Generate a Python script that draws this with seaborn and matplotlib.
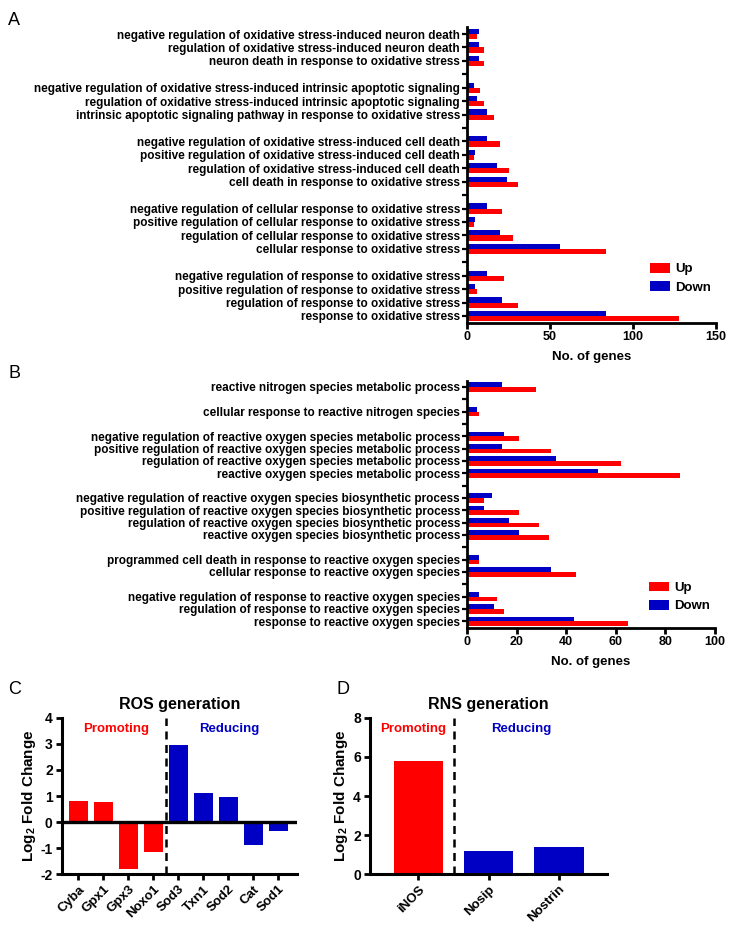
import matplotlib
matplotlib.use('Agg')
import matplotlib.pyplot as plt
from matplotlib.patches import Patch
import seaborn as sns
import pandas as pd

sns.set_style('ticks')
plt.rcParams['font.family'] = ['Liberation Sans', 'DejaVu Sans']
plt.rcParams['font.weight'] = 'bold'
plt.rcParams['axes.labelweight'] = 'bold'
plt.rcParams['axes.unicode_minus'] = False
plt.rcParams['text.color'] = 'black'
plt.rcParams['axes.labelcolor'] = 'black'
plt.rcParams['axes.edgecolor'] = 'black'
plt.rcParams['xtick.color'] = 'black'
plt.rcParams['ytick.color'] = 'black'
plt.rcParams['mathtext.fontset'] = 'custom'
plt.rcParams['mathtext.rm'] = 'Liberation Sans:bold'
plt.rcParams['mathtext.it'] = 'Liberation Sans:bold'
plt.rcParams['mathtext.bf'] = 'Liberation Sans:bold'

RED = '#FF0000'
BLUE = '#0000C4'
PAL = {'Up': RED, 'Down': BLUE}

# ---------------- Panel A data (top to bottom) ----------------
a_terms = [
    "negative regulation of oxidative stress-induced neuron death",
    "regulation of oxidative stress-induced neuron death",
    "neuron death in response to oxidative stress",
    "negative regulation of oxidative stress-induced intrinsic apoptotic signaling",
    "regulation of oxidative stress-induced intrinsic apoptotic signaling",
    "intrinsic apoptotic signaling pathway in response to oxidative stress",
    "negative regulation of oxidative stress-induced cell death",
    "positive regulation of oxidative stress-induced cell death",
    "regulation of oxidative stress-induced cell death",
    "cell death in response to oxidative stress",
    "negative regulation of cellular response to oxidative stress",
    "positive regulation of cellular response to oxidative stress",
    "regulation of cellular response to oxidative stress",
    "cellular response to oxidative stress",
    "negative regulation of response to oxidative stress",
    "positive regulation of response to oxidative stress",
    "regulation of response to oxidative stress",
    "response to oxidative stress",
]
a_up = [6, 10, 10, 8, 10, 16, 20, 4, 25, 31, 21, 4, 28, 84, 22, 6, 31, 128]
a_down = [7, 7, 7, 4, 6, 12, 12, 5, 18, 24, 12, 5, 20, 56, 12, 5, 21, 84]
a_group_sizes = [3, 3, 4, 4, 4]

# ---------------- Panel B data (top to bottom) ----------------
b_terms = [
    "reactive nitrogen species metabolic process",
    "cellular response to reactive nitrogen species",
    "negative regulation of reactive oxygen species metabolic process",
    "positive regulation of reactive oxygen species metabolic process",
    "regulation of reactive oxygen species metabolic process",
    "reactive oxygen species metabolic process",
    "negative regulation of reactive oxygen species biosynthetic process",
    "positive regulation of reactive oxygen species biosynthetic process",
    "regulation of reactive oxygen species biosynthetic process",
    "reactive oxygen species biosynthetic process",
    "programmed cell death in response to reactive oxygen species",
    "cellular response to reactive oxygen species",
    "negative regulation of response to reactive oxygen species",
    "regulation of response to reactive oxygen species",
    "response to reactive oxygen species",
]
b_up = [28, 5, 21, 34, 62, 86, 7, 21, 29, 33, 5, 44, 12, 15, 65]
b_down = [14, 4, 15, 14, 36, 53, 10, 7, 17, 21, 5, 34, 5, 11, 43]
b_group_sizes = [1, 1, 4, 4, 2, 3]

# ---------------- Panel C data ----------------
c_genes = ["Cyba", "Gpx1", "Gpx3", "Noxo1", "Sod3", "Txn1", "Sod2", "Cat", "Sod1"]
c_values = [0.80, 0.77, -1.78, -1.14, 2.95, 1.12, 0.95, -0.87, -0.33]
c_class = ["Promoting"] * 4 + ["Reducing"] * 5

# ---------------- Panel D data ----------------
d_genes = ["iNOS", "Nosip", "Nostrin"]
d_values = [5.8, 1.19, 1.38]
d_class = ["Promoting", "Reducing", "Reducing"]

CLASS_PAL = {"Promoting": RED, "Reducing": BLUE}

fig = plt.figure(figsize=(7.31, 9.35), dpi=100)

LABEL_FS = 8.5
TICK_FS = 9


def hbar_panel(ax, terms, up, down, sizes, xmax, xstep, legend_anchor):
    order = []
    i = 0
    for g, n in enumerate(sizes):
        if g > 0:
            order.append(f"__gap{g}")
        order.extend(terms[i:i + n])
        i += n
    df = pd.DataFrame({
        "term": list(terms) * 2,
        "count": list(up) + list(down),
        "direction": ["Up"] * len(terms) + ["Down"] * len(terms),
    })
    sns.barplot(data=df, y="term", x="count", hue="direction", order=order,
                hue_order=["Down", "Up"], palette=PAL, orient="h", width=0.76,
                saturation=1, ax=ax, linewidth=0, legend=False)
    ax.set_yticks(range(len(order)))
    ax.set_yticklabels(["" if o.startswith("__gap") else o for o in order],
                       fontsize=LABEL_FS, fontweight="bold")
    ax.set_ylim(len(order) - 0.5, -0.5)
    ax.set_xlim(0, xmax)
    ax.set_xticks(range(0, xmax + 1, xstep))
    ax.tick_params(axis="x", labelsize=TICK_FS, width=2, length=4, pad=2)
    ax.tick_params(axis="y", width=1.6, length=3.5, pad=1.5)
    for lab in ax.get_xticklabels():
        lab.set_fontweight("bold")
    ax.set_ylabel("")
    ax.set_xlabel("No. of genes", fontsize=9.5, fontweight="bold", labelpad=6)
    sns.despine(ax=ax)
    for s in ["left", "bottom"]:
        ax.spines[s].set_linewidth(2)
    handles = [Patch(facecolor=RED, edgecolor="none", label="Up"),
               Patch(facecolor=BLUE, edgecolor="none", label="Down")]
    ax.legend(handles=handles, loc="lower right", bbox_to_anchor=legend_anchor,
              frameon=False, fontsize=9.5, handlelength=1.55, handleheight=0.75,
              handletextpad=0.35, labelspacing=0.45, borderaxespad=0)


axA = fig.add_axes([467 / 731, 1 - 322.7 / 935, 249 / 731, 295.4 / 935])
hbar_panel(axA, a_terms, a_up, a_down, a_group_sizes, 150, 50, (1.0, 0.08))

axB = fig.add_axes([467 / 731, 1 - 627.5 / 935, 248 / 731, 246.7 / 935])
hbar_panel(axB, b_terms, b_up, b_down, b_group_sizes, 100, 20, (1.0, 0.04))


def vbar_panel(ax, genes, values, classes, ylim, yticks, xlim, width, divider,
               title, prom_x, red_x):
    df = pd.DataFrame({"gene": genes, "value": values, "cls": classes})
    sns.barplot(data=df, x="gene", y="value", hue="cls", palette=CLASS_PAL,
                dodge=False, width=width, saturation=1, ax=ax, linewidth=0,
                legend=False)
    ax.set_ylim(*ylim)
    ax.set_yticks(yticks)
    ax.set_xlim(*xlim)
    ax.axvline(divider, color="black", lw=1.8, ls=(0, (3.2, 2.2)), zorder=5)
    ax.set_xlabel("")
    ax.set_ylabel("Log$_{2}$ Fold Change", fontsize=11, fontweight="bold",
                  labelpad=2)
    ax.set_title(title, fontsize=11.5, fontweight="bold", pad=6)
    ax.tick_params(axis="both", width=2, length=4.5, labelsize=10, pad=2)
    ax.set_xticks(range(len(genes)))
    ax.set_xticklabels(genes, rotation=45, ha="right", rotation_mode="anchor",
                       fontsize=9.5, fontweight="bold")
    for lab in ax.get_yticklabels():
        lab.set_fontweight("bold")
    sns.despine(ax=ax)
    for s in ["left", "bottom"]:
        ax.spines[s].set_linewidth(2.2)
    ax.text(prom_x, 0.93, "Promoting", color=RED, fontsize=9.5, fontweight="bold",
            ha="center", va="center", transform=ax.get_xaxis_transform())
    ax.text(red_x, 0.93, "Reducing", color=BLUE, fontsize=9.5, fontweight="bold",
            ha="center", va="center", transform=ax.get_xaxis_transform())


axC = fig.add_axes([61.7 / 731, 1 - 874.3 / 935, 235 / 731, 156.6 / 935])
vbar_panel(axC, c_genes, c_values, c_class, (-2, 4), range(-2, 5),
           (-0.67, 8.73), 0.77, 3.5, "ROS generation", 1.5, 6.05)
axC.axhline(0, color="black", lw=2.4, zorder=4)

axD = fig.add_axes([370 / 731, 1 - 874.3 / 935, 236.7 / 731, 156.6 / 935])
vbar_panel(axD, d_genes, d_values, d_class, (0, 8), range(0, 9, 2),
           (-0.69, 2.68), 0.70, 0.5, "RNS generation", -0.08, 1.47)

for letter, x, y in [("A", 8, 12), ("B", 8, 365), ("C", 8, 681), ("D", 336, 681)]:
    fig.text(x / 731, 1 - y / 935, letter, fontsize=13, fontweight="normal",
             ha="left", va="top")

fig.savefig("out.png", dpi=100)
